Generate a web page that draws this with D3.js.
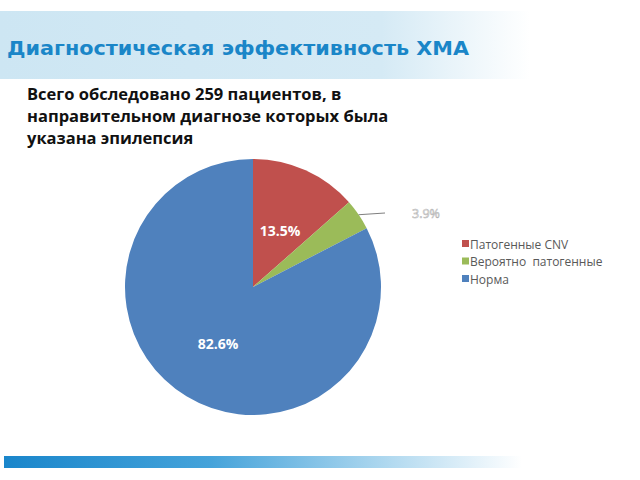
<!DOCTYPE html>
<html><head><meta charset="utf-8">
<script src="https://cdn.jsdelivr.net/npm/d3@7"></script>
<style>body{margin:0;background:#fff}svg{display:block}</style>
</head><body>
<script>
const categories = ["Патогенные CNV", "Вероятно  патогенные", "Норма"];
const values = [13.5, 3.9, 82.6];
const colors = ["#c0504d", "#9bbb59", "#4f81bd"];
const labels = ["13.5%", "3.9%", "82.6%"];
const title = "Диагностическая эффективность ХМА";
const subtitle = ["Всего обследовано 259 пациентов, в", "направительном диагнозе которых была", "указана эпилепсия"];

const W = 640, H = 480;
const svg = d3.select("body").append("svg").attr("width", W).attr("height", H);
const defs = svg.append("defs");
const g1 = defs.append("linearGradient").attr("id", "hdr");
g1.append("stop").attr("offset", 0).attr("stop-color", "#cde6f3");
g1.append("stop").attr("offset", 0.72).attr("stop-color", "#d5eaf5");
g1.append("stop").attr("offset", 1).attr("stop-color", "#ffffff");
const g2 = defs.append("linearGradient").attr("id", "bar");
g2.append("stop").attr("offset", 0).attr("stop-color", "#1a86cb");
g2.append("stop").attr("offset", 0.4).attr("stop-color", "#45a3da");
g2.append("stop").attr("offset", 0.75).attr("stop-color", "#b3daf0");
g2.append("stop").attr("offset", 1).attr("stop-color", "#ffffff");

svg.append("rect").attr("x", 0).attr("y", 11).attr("width", 530).attr("height", 68).attr("fill", "url(#hdr)");
svg.append("text").attr("x", 7).attr("y", 55).text(title)
  .attr("font-family", "'DejaVu Sans', sans-serif").attr("font-weight", "bold")
  .attr("font-size", 20).attr("fill", "#1a86c8").attr("textLength", 462).attr("lengthAdjust", "spacingAndGlyphs");

svg.append("rect").attr("x", 4).attr("y", 456).attr("width", 518).attr("height", 12).attr("fill", "url(#bar)");

svg.selectAll("text.sub").data(subtitle).join("text").attr("class", "sub")
  .attr("x", 27).attr("y", (d, i) => 100 + i * 22).text(d => d)
  .attr("font-family", "'Open Sans', sans-serif").attr("font-weight", "bold")
  .attr("font-size", 16.5).attr("fill", "#111");

const cx = 253, cy = 287, r = 128;
const pie = d3.pie().sort(null).value(d => d)(values);
const arc = d3.arc().innerRadius(0).outerRadius(r);
const pg = svg.append("g").attr("transform", `translate(${cx},${cy})`);
pg.selectAll("path").data(pie).join("path").attr("d", arc)
  .attr("fill", (d, i) => colors[i]);

pg.selectAll("text.in").data([0, 2]).join("text").attr("class", "in")
  .attr("x", i => i === 0 ? 27 : -35).attr("y", i => i === 0 ? -57 : 56)
  .attr("text-anchor", "middle").attr("dominant-baseline", "central")
  .attr("font-family", "'Open Sans', sans-serif").attr("font-weight", "bold")
  .attr("font-size", 14).attr("fill", "#fff").text(i => labels[i]);

const mid = (pie[1].startAngle + pie[1].endAngle) / 2;
const p0 = [Math.sin(mid) * r, -Math.cos(mid) * r];
pg.append("line").attr("x1", p0[0]).attr("y1", p0[1]).attr("x2", 132).attr("y2", -74)
  .attr("stroke", "#7f7f7f").attr("stroke-width", 1);
pg.append("text").attr("x", 159).attr("y", -74).attr("dominant-baseline", "central")
  .attr("font-family", "'Open Sans', sans-serif").attr("font-size", 12.5)
  .attr("fill", "#f2f2f2").attr("stroke", "#b0b0b0").attr("stroke-width", 0.5).text(labels[1]);

const lg = svg.append("g").attr("transform", "translate(462,244)");
const items = lg.selectAll("g").data(categories).join("g").attr("transform", (d, i) => `translate(0,${i * 17.5})`);
items.append("rect").attr("x", 0).attr("y", -4).attr("width", 7).attr("height", 7).attr("fill", (d, i) => colors[i]);
items.append("text").attr("x", 8).attr("y", 0).attr("dominant-baseline", "central")
  .style("white-space", "pre")
  .attr("font-family", "'Open Sans', sans-serif").attr("font-size", 12).attr("fill", "#595959").text(d => d);
</script>
</body></html>
